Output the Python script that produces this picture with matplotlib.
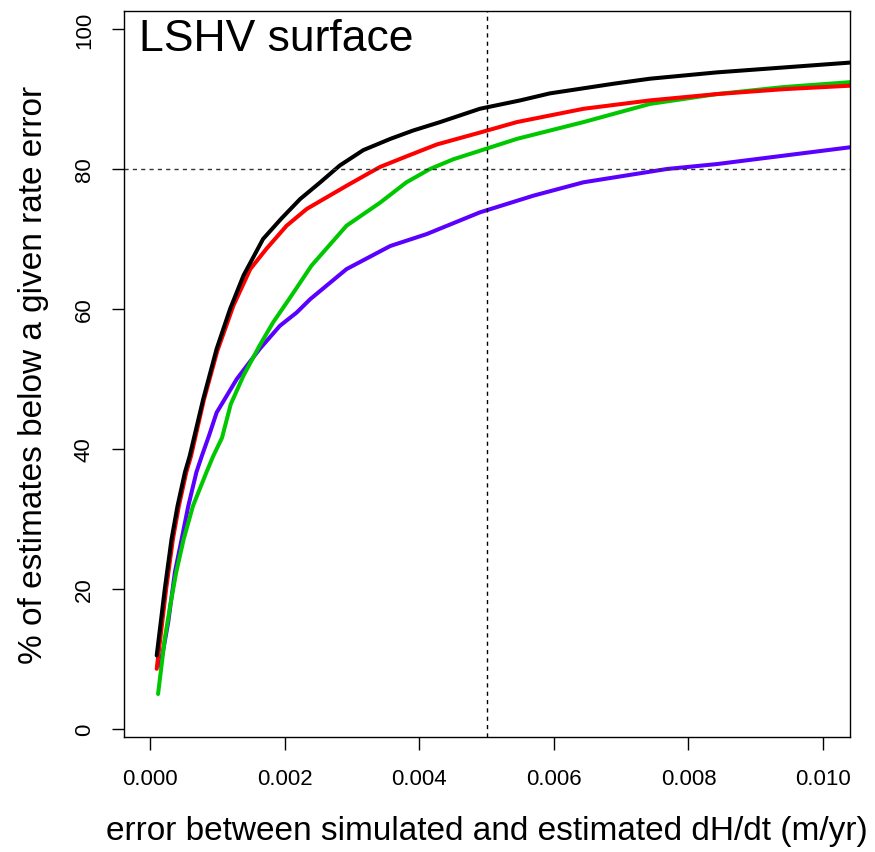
import matplotlib
matplotlib.use("Agg")
import matplotlib.pyplot as plt

plt.rcParams['font.family'] = ["Liberation Sans", "DejaVu Sans"]

# rate error thresholds, x in units of 0.001 m/yr; y = % of estimates below
black_x = [0.10, 0.22, 0.32, 0.41, 0.52, 0.59, 0.79, 0.99, 1.19, 1.39, 1.68, 1.95, 2.23, 2.53, 2.82, 3.17, 3.57, 3.91, 4.31, 4.90, 5.50, 5.94, 6.90, 7.43, 8.42, 9.41, 10.40]
black_y = [10.5, 20.0, 27.1, 31.9, 36.7, 39.0, 47.1, 54.3, 60.0, 64.8, 70.0, 72.9, 75.7, 78.1, 80.5, 82.7, 84.3, 85.5, 86.7, 88.6, 89.8, 90.8, 92.2, 92.9, 93.8, 94.5, 95.2]

red_x = [0.10, 0.24, 0.34, 0.43, 0.54, 0.61, 0.80, 1.00, 1.24, 1.49, 1.73, 2.03, 2.33, 2.58, 2.92, 3.27, 3.42, 3.81, 4.26, 4.90, 5.45, 6.44, 7.43, 8.42, 9.41, 10.40]
red_y = [8.6, 20.0, 27.1, 31.9, 36.7, 39.0, 47.0, 54.0, 60.5, 65.7, 68.6, 71.9, 74.3, 75.7, 77.6, 79.5, 80.3, 81.8, 83.5, 85.2, 86.7, 88.6, 89.8, 90.7, 91.4, 91.9]

green_x = [0.12, 0.22, 0.30, 0.39, 0.50, 0.64, 0.84, 0.94, 1.07, 1.20, 1.39, 1.63, 1.83, 2.08, 2.40, 2.92, 3.42, 3.81, 4.16, 4.51, 4.90, 5.45, 6.44, 7.43, 8.42, 9.41, 10.40]
green_y = [5.0, 12.9, 17.6, 22.4, 27.1, 31.9, 36.7, 39.0, 41.6, 46.4, 50.5, 54.8, 58.1, 61.6, 66.2, 71.9, 75.2, 78.1, 80.0, 81.4, 82.6, 84.3, 86.7, 89.3, 90.7, 91.7, 92.4]

purple_x = [0.15, 0.21, 0.27, 0.37, 0.47, 0.57, 0.69, 0.77, 0.88, 0.99, 1.29, 1.63, 1.93, 2.18, 2.38, 2.92, 3.57, 4.11, 4.90, 5.70, 6.44, 7.68, 8.42, 9.41, 10.40]
purple_y = [9.0, 12.0, 15.2, 22.4, 27.1, 31.9, 36.7, 39.0, 42.0, 45.2, 50.0, 54.3, 57.6, 59.5, 61.4, 65.7, 69.0, 70.7, 73.8, 76.2, 78.1, 80.0, 80.7, 81.9, 83.1]

x_ticks = [0.000, 0.002, 0.004, 0.006, 0.008, 0.010]
x_tick_labels = ["0.000", "0.002", "0.004", "0.006", "0.008", "0.010"]
y_ticks = [0, 20, 40, 60, 80, 100]
ref_x = 0.005
ref_y = 80

fig = plt.figure(figsize=(8.75, 8.53), dpi=100)
ax = fig.add_axes([124/875, 115/853, 726/875, 726/853])

def sc(v):
    return [a * 0.001 for a in v]

lw = 2.9
ax.plot(sc(purple_x), purple_y, color="#5A00FF", lw=lw, solid_capstyle="round", solid_joinstyle="round")
ax.plot(sc(green_x), green_y, color="#00C800", lw=lw, solid_capstyle="round", solid_joinstyle="round")
ax.plot(sc(red_x), red_y, color="#FF0000", lw=lw, solid_capstyle="round", solid_joinstyle="round")
ax.plot(sc(black_x), black_y, color="black", lw=lw, solid_capstyle="round", solid_joinstyle="round")

ax.axhline(ref_y, color="#333333", lw=1.0, dashes=(3, 3))
ax.axvline(ref_x, color="black", lw=1.0, dashes=(3, 3))

ax.set_xlim(-0.000386, 0.01040)
ax.set_ylim(-1.14, 102.57)
ax.set_xticks(x_ticks)
ax.set_xticklabels(x_tick_labels)
ax.set_yticks(y_ticks)
ax.set_yticklabels([str(v) for v in y_ticks], rotation=90, va="center")
ax.tick_params(axis="both", direction="out", length=9, width=1, labelsize=16, colors="black")
ax.tick_params(axis="x", pad=13)
ax.tick_params(axis="y", pad=12)
for s in ax.spines.values():
    s.set_linewidth(1.0)
    s.set_color("black")

ax.set_xlabel("error between simulated and estimated dH/dt (m/yr)", fontsize=24, labelpad=19)
ax.set_ylabel("% of estimates below a given rate error", fontsize=24, labelpad=18)
ax.text(0.02, 0.990, "LSHV surface", transform=ax.transAxes, fontsize=32, va="top", ha="left")

fig.savefig("out.png", dpi=100)
